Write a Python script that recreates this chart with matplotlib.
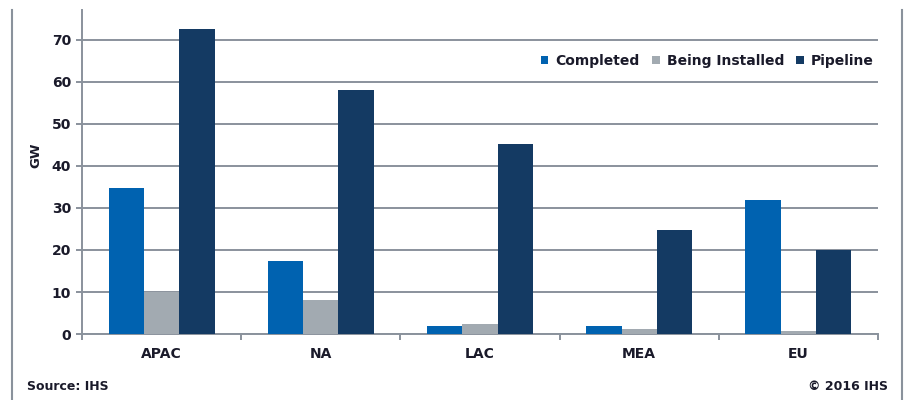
import matplotlib
matplotlib.use("Agg")
import matplotlib.pyplot as plt
from matplotlib.lines import Line2D
import numpy as np

categories = ["APAC", "NA", "LAC", "MEA", "EU"]
completed = [34.8, 17.5, 2.0, 1.8, 32.0]
being_installed = [10.0, 8.2, 2.5, 1.2, 0.8]
pipeline = [72.6, 58.0, 45.3, 24.8, 20.0]
series_names = ["Completed", "Being Installed", "Pipeline"]
colors = ["#0062b0", "#a2aab1", "#143a63"]
yticks = [0, 10, 20, 30, 40, 50, 60, 70]

plt.rcParams['font.family'] = ['DejaVu Sans']

W, H = 907, 400
fig = plt.figure(figsize=(W / 100, H / 100), dpi=100)
ax = fig.add_axes([82 / W, 1 - 334 / H, (878 - 82) / W, (334 - 10) / H])

x = np.arange(len(categories))
bw = 0.222
for i, (vals, name, c) in enumerate(zip([completed, being_installed, pipeline], series_names, colors)):
    ax.bar(x + (i - 1) * bw, vals, width=bw, color=c, label=name, zorder=3)

ax.set_xlim(-0.5, len(categories) - 0.5)
ax.set_ylim(0, (334 - 10) / 4.2)
ax.set_yticks(yticks)
ax.set_xticks(x)
ax.set_xticklabels(categories)
ax.set_xticks(np.arange(len(categories) + 1) - 0.5, minor=True)
grid_c = "#8a929c"
txt_c = "#1a1a2a"
ax.yaxis.grid(True, color=grid_c, linewidth=1.4, zorder=0)
ax.set_axisbelow(True)
for s in ["top", "right"]:
    ax.spines[s].set_visible(False)
for s in ["left", "bottom"]:
    ax.spines[s].set_color(grid_c)
    ax.spines[s].set_linewidth(1.4)
ax.tick_params(axis="x", which="major", length=0, pad=9)
ax.tick_params(axis="x", which="minor", length=4, color=grid_c, width=1.4)
ax.tick_params(axis="y", length=4, color=grid_c, width=1.4, pad=4)
for lab in ax.get_xticklabels() + ax.get_yticklabels():
    lab.set_fontsize(10)
    lab.set_fontweight("bold")
    lab.set_color(txt_c)

ax.set_ylabel("GW", fontsize=9.5, fontweight="bold", color=txt_c)
ax.yaxis.set_label_coords((42 - 82) / 796, (334 - 155) / 324)

leg = ax.legend(loc="center right", bbox_to_anchor=(1.0, (334 - 61) / 324), ncol=3, frameon=False,
                fontsize=10, handlelength=0.55, handleheight=0.55, handletextpad=0.5,
                columnspacing=0.9, borderpad=0.0, borderaxespad=0.3)
for t in leg.get_texts():
    t.set_fontweight("bold")
    t.set_color(txt_c)

fig.text(27 / W, 1 - 387 / H, "Source: IHS", fontsize=9, fontweight="bold", color=txt_c, va="center")
fig.text(888 / W, 1 - 387 / H, "\u00a9 2016 IHS", fontsize=9, fontweight="bold", color=txt_c, va="center", ha="right")

fig.add_artist(Line2D([12 / W, 12 / W], [0, 1 - 10 / H], transform=fig.transFigure, color=grid_c, linewidth=1.5))
fig.add_artist(Line2D([902 / W, 902 / W], [0, 1 - 10 / H], transform=fig.transFigure, color=grid_c, linewidth=1.5))

fig.savefig("out.png", dpi=100)
